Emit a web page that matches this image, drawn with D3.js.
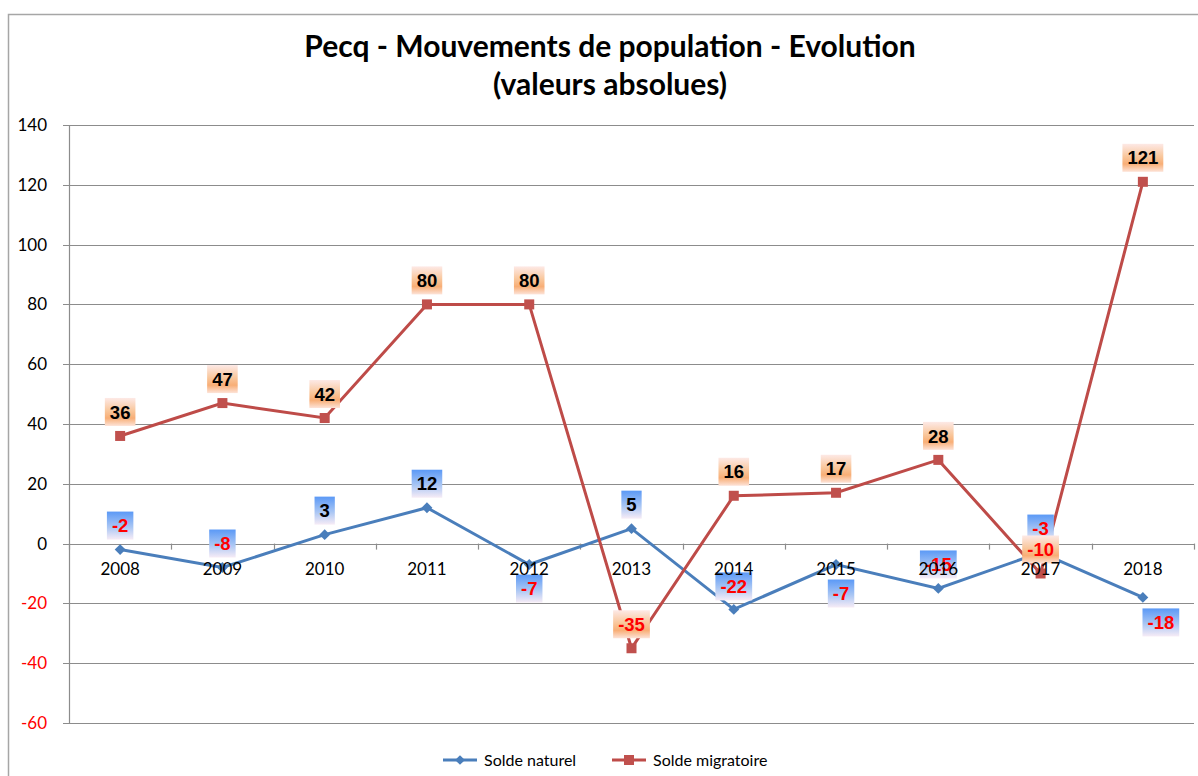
<!DOCTYPE html>
<html>
<head>
<meta charset="utf-8">
<script src="https://cdn.jsdelivr.net/npm/d3@7"></script>
<style>
  body { margin: 0; background: #fff; }
  svg { display: block; }
</style>
</head>
<body>
<div id="chart"></div>
<script>
// Data
var years = ["2008", "2009", "2010", "2011", "2012", "2013", "2014", "2015", "2016", "2017", "2018"];
var soldeNaturel = [-2, -8, 3, 12, -7, 5, -22, -7, -15, -3, -18];
var soldeMigratoire = [36, 47, 42, 80, 80, -35, 16, 17, 28, -10, 121];
var yTicks = [-60, -40, -20, 0, 20, 40, 60, 80, 100, 120, 140];
var seriesNames = ["Solde naturel", "Solde migratoire"];

// Manual label offsets (pixels) like in the original workbook
var naturelLabelOffset = [[0, -24], [0, -24], [0, -24], [0, -24], [0, 24], [0, -24], [0, -23], [5, 29], [0, -24], [0, -24], [18, 25]];

var W = 1198, H = 776;
var margin = { top: 125, left: 69, right: 4, bottom: 53 };

var svg = d3.select("#chart")
  .append("svg")
    .attr("width", W)
    .attr("height", H);

// gradients for the data label boxes
var defs = svg.append("defs");
var gBlue = defs.append("linearGradient").attr("id", "gBlue").attr("x1", 0).attr("y1", 0).attr("x2", 0).attr("y2", 1);
gBlue.append("stop").attr("offset", "0%").attr("stop-color", "#5b99f6");
gBlue.append("stop").attr("offset", "55%").attr("stop-color", "#a9c6f4");
gBlue.append("stop").attr("offset", "100%").attr("stop-color", "#f7ecf6");
var gOrange = defs.append("linearGradient").attr("id", "gOrange").attr("x1", 0).attr("y1", 0).attr("x2", 0).attr("y2", 1);
gOrange.append("stop").attr("offset", "0%").attr("stop-color", "#fde9e6");
gOrange.append("stop").attr("offset", "45%").attr("stop-color", "#f9c79c");
gOrange.append("stop").attr("offset", "72%").attr("stop-color", "#f8ae76");
gOrange.append("stop").attr("offset", "100%").attr("stop-color", "#fde3d8");

// outer chart border
svg.append("rect")
  .attr("x", 8.5).attr("y", 14.5)
  .attr("width", W + 20).attr("height", H + 20)
  .attr("fill", "none")
  .attr("stroke", "#a6a6a6")
  .attr("stroke-width", 1.5);

// title
var title = svg.append("text")
  .attr("text-anchor", "middle")
  .style("font-family", "Lato, 'Open Sans', sans-serif")
  .style("font-weight", "bold")
  .style("font-size", "30px")
  .attr("fill", "#000");
title.append("tspan").attr("x", 610).attr("y", 57).text("Pecq - Mouvements de population - Evolution");
title.append("tspan").attr("x", 610).attr("y", 95).text("(valeurs absolues)");

var x = d3.scaleBand()
  .domain(years)
  .range([margin.left, W - margin.right])
  .padding(0);

var y = d3.scaleLinear()
  .domain([-60, 140])
  .range([H - margin.bottom, margin.top]);

function cx(i) { return x(years[i]) + x.bandwidth() / 2; }

// horizontal gridlines
svg.append("g")
  .selectAll("line")
  .data(yTicks)
  .enter()
  .append("line")
    .attr("x1", margin.left - 6)
    .attr("x2", W - margin.right)
    .attr("y1", function(d) { return Math.round(y(d)) + 0.5; })
    .attr("y2", function(d) { return Math.round(y(d)) + 0.5; })
    .attr("stroke", "#8c8c8c")
    .attr("stroke-width", 1.2);

// value axis line
svg.append("line")
  .attr("x1", margin.left + 0.5).attr("x2", margin.left + 0.5)
  .attr("y1", y(140)).attr("y2", y(-60))
  .attr("stroke", "#8c8c8c").attr("stroke-width", 1.2);

// value axis labels
svg.append("g")
  .selectAll("text")
  .data(yTicks)
  .enter()
  .append("text")
    .attr("x", 47)
    .attr("y", function(d) { return y(d); })
    .attr("dy", "0.35em")
    .attr("text-anchor", "end")
    .style("font-family", "Lato, 'Open Sans', sans-serif")
    .style("font-size", "17px")
    .attr("fill", function(d) { return d < 0 ? "#ff0000" : "#000"; })
    .text(function(d) { return d; });

// category ticks on the zero line
var tickXs = years.map(function(d) { return x(d); }).concat([W - margin.right]);
svg.append("g")
  .selectAll("line")
  .data(tickXs)
  .enter()
  .append("line")
    .attr("x1", function(d) { return Math.round(d) + 0.5; })
    .attr("x2", function(d) { return Math.round(d) + 0.5; })
    .attr("y1", y(0))
    .attr("y2", y(0) + 6)
    .attr("stroke", "#8c8c8c").attr("stroke-width", 1.2);

// lines
var lineGen = d3.line()
  .x(function(d, i) { return cx(i); })
  .y(function(d) { return y(d); });

svg.append("path")
  .datum(soldeNaturel)
  .attr("d", lineGen)
  .attr("fill", "none")
  .attr("stroke", "#4a7ebb")
  .attr("stroke-width", 3);

svg.append("path")
  .datum(soldeMigratoire)
  .attr("d", lineGen)
  .attr("fill", "none")
  .attr("stroke", "#be4b48")
  .attr("stroke-width", 3);

// markers
svg.append("g")
  .selectAll("path")
  .data(soldeNaturel)
  .enter()
  .append("path")
    .attr("d", d3.symbol().type(d3.symbolDiamond2).size(75))
    .attr("transform", function(d, i) { return "translate(" + cx(i) + "," + y(d) + ")"; })
    .attr("fill", "#4a7ebb");

svg.append("g")
  .selectAll("rect")
  .data(soldeMigratoire)
  .enter()
  .append("rect")
    .attr("x", function(d, i) { return cx(i) - 5; })
    .attr("y", function(d) { return y(d) - 5; })
    .attr("width", 10).attr("height", 10)
    .attr("fill", "#c0504d");

// data labels
function drawLabels(values, offsets, fillId) {
  var g = svg.append("g");
  values.forEach(function(v, i) {
    var off = offsets ? offsets[i] : [0, -24];
    var px = cx(i) + off[0], py = y(v) + off[1];
    var lab = g.append("g").attr("transform", "translate(" + px + "," + py + ")");
    var t = lab.append("text")
      .attr("text-anchor", "middle")
      .attr("dy", "0.36em")
      .style("font-family", "'Liberation Sans', Arial, sans-serif")
      .style("font-weight", "bold")
      .style("font-size", "18.5px")
      .attr("fill", v < 0 ? "#ff0000" : "#000")
      .text(v);
    var w = t.node().getComputedTextLength() + 10;
    lab.insert("rect", "text")
      .attr("x", -w / 2).attr("y", -14)
      .attr("width", w).attr("height", 28)
      .attr("fill", "url(#" + fillId + ")");
  });
}
drawLabels(soldeNaturel, naturelLabelOffset, "gBlue");
drawLabels(soldeMigratoire, null, "gOrange");

// category labels (drawn on top)
svg.append("g")
  .selectAll("text")
  .data(years)
  .enter()
  .append("text")
    .attr("x", function(d) { return x(d) + x.bandwidth() / 2; })
    .attr("y", y(0) + 25)
    .attr("dy", "0.35em")
    .attr("text-anchor", "middle")
    .style("font-family", "Lato, 'Open Sans', sans-serif")
    .style("font-size", "17px")
    .attr("fill", "#000")
    .text(function(d) { return d; });

// legend
var legend = svg.append("g").attr("transform", "translate(0,760)");
var legendItems = [
  { name: seriesNames[0], color: "#4a7ebb", x: 443, marker: "diamond" },
  { name: seriesNames[1], color: "#be4b48", x: 612, marker: "square" }
];
legendItems.forEach(function(it) {
  legend.append("line")
    .attr("x1", it.x).attr("x2", it.x + 34)
    .attr("y1", 0).attr("y2", 0)
    .attr("stroke", it.color).attr("stroke-width", 3);
  if (it.marker === "diamond") {
    legend.append("path")
      .attr("d", d3.symbol().type(d3.symbolDiamond2).size(60))
      .attr("transform", "translate(" + (it.x + 17) + ",0)")
      .attr("fill", it.color);
  } else {
    legend.append("rect")
      .attr("x", it.x + 12).attr("y", -5)
      .attr("width", 10).attr("height", 10)
      .attr("fill", "#c0504d");
  }
  legend.append("text")
    .attr("x", it.x + 41)
    .attr("dy", "0.35em")
    .style("font-family", "Lato, 'Open Sans', sans-serif")
    .style("font-size", "16px")
    .attr("fill", "#000")
    .text(it.name);
});
</script>
</body>
</html>
